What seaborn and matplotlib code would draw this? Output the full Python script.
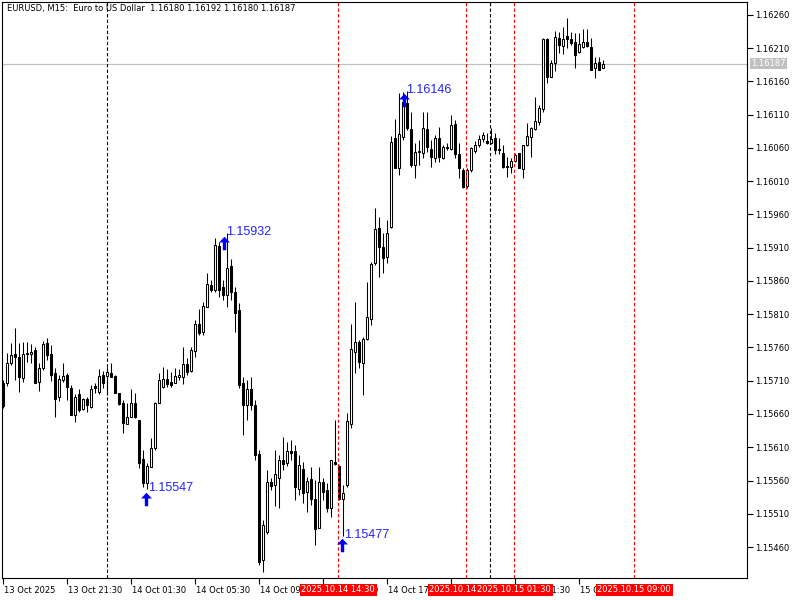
import numpy as np
import pandas as pd
import matplotlib
matplotlib.use("Agg")
import matplotlib.pyplot as plt
import matplotlib.transforms as mtransforms
from matplotlib.path import Path
import seaborn as sns

sns.set_theme(style="white")
plt.rcParams['font.family'] = ['DejaVu Sans']

# ---------------- data (EURUSD M15 candles) ----------------
open_ = [1.15707, 1.15707, 1.15737, 1.15750, 1.15746, 1.15714, 1.15750, 1.15750, 1.15756, 1.15708,
         1.15729, 1.15767, 1.15750, 1.15722, 1.15686, 1.15711, 1.15719, 1.15699, 1.15658, 1.15690,
         1.15668, 1.15683, 1.15671, 1.15702, 1.15693, 1.15719, 1.15717, 1.15722, 1.15717, 1.15692,
         1.15677, 1.15645, 1.15655, 1.15677, 1.15651, 1.15592, 1.15556, 1.15580, 1.15609, 1.15677,
         1.15701, 1.15713, 1.15708, 1.15707, 1.15716, 1.15716, 1.15735, 1.15725, 1.15755, 1.15795,
         1.15783, 1.15821, 1.15854, 1.15846, 1.15913, 1.15851, 1.15839, 1.15883, 1.15843, 1.15816,
         1.15707, 1.15674, 1.15698, 1.15674, 1.15600, 1.15440, 1.15483, 1.15558, 1.15553, 1.15564,
         1.15591, 1.15586, 1.15604, 1.15604, 1.15547, 1.15577, 1.15543, 1.15562, 1.15532, 1.15489,
         1.15558, 1.15546, 1.15519, 1.15588, 1.15582, 1.15532, 1.15553, 1.15645, 1.15753, 1.15768,
         1.15737, 1.15773, 1.15803, 1.15887, 1.15940, 1.15911, 1.15896, 1.15941, 1.16075, 1.16030,
         1.16077, 1.16128, 1.16089, 1.16034, 1.16054, 1.16052, 1.16089, 1.16058, 1.16045, 1.16075,
         1.16045, 1.16062, 1.16058, 1.16096, 1.16051, 1.16027, 1.16003, 1.16027, 1.16055, 1.16065,
         1.16074, 1.16071, 1.16068, 1.16075, 1.16058, 1.16052, 1.16033, 1.16031, 1.16040, 1.16052,
         1.16028, 1.16065, 1.16077, 1.16089, 1.16099, 1.16119, 1.16224, 1.16167, 1.16188, 1.16225,
         1.16213, 1.16228, 1.16224, 1.16219, 1.16204, 1.16212, 1.16219, 1.16212, 1.16180, 1.16189,
         1.16180]
high = [1.15711, 1.15752, 1.15767, 1.15789, 1.15767, 1.15768, 1.15768, 1.15765, 1.15761, 1.15737,
        1.15770, 1.15774, 1.15764, 1.15729, 1.15719, 1.15737, 1.15722, 1.15704, 1.15690, 1.15698,
        1.15684, 1.15686, 1.15704, 1.15707, 1.15728, 1.15725, 1.15731, 1.15737, 1.15719, 1.15692,
        1.15681, 1.15677, 1.15698, 1.15692, 1.15651, 1.15606, 1.15586, 1.15624, 1.15678, 1.15722,
        1.15731, 1.15728, 1.15723, 1.15729, 1.15728, 1.15761, 1.15744, 1.15761, 1.15801, 1.15818,
        1.15828, 1.15872, 1.15861, 1.15925, 1.15919, 1.15861, 1.15932, 1.15893, 1.15851, 1.15827,
        1.15716, 1.15711, 1.15716, 1.15681, 1.15606, 1.15501, 1.15576, 1.15564, 1.15606, 1.15598,
        1.15625, 1.15618, 1.15621, 1.15613, 1.15598, 1.15588, 1.15565, 1.15580, 1.15561, 1.15580,
        1.15564, 1.15556, 1.15591, 1.15651, 1.15583, 1.15553, 1.15661, 1.15795, 1.15828, 1.15771,
        1.15776, 1.15858, 1.15889, 1.15970, 1.15956, 1.15932, 1.15952, 1.16078, 1.16104, 1.16143,
        1.16144, 1.16146, 1.16114, 1.16068, 1.16072, 1.16114, 1.16114, 1.16072, 1.16080, 1.16092,
        1.16065, 1.16068, 1.16110, 1.16102, 1.16068, 1.16030, 1.16030, 1.16062, 1.16071, 1.16080,
        1.16084, 1.16083, 1.16090, 1.16083, 1.16075, 1.16065, 1.16046, 1.16045, 1.16052, 1.16052,
        1.16065, 1.16098, 1.16092, 1.16137, 1.16125, 1.16225, 1.16225, 1.16192, 1.16236, 1.16234,
        1.16242, 1.16255, 1.16234, 1.16233, 1.16233, 1.16239, 1.16239, 1.16225, 1.16197, 1.16197,
        1.16192]
low = [1.15669, 1.15702, 1.15734, 1.15711, 1.15693, 1.15708, 1.15738, 1.15737, 1.15707, 1.15695,
       1.15726, 1.15741, 1.15710, 1.15655, 1.15680, 1.15708, 1.15681, 1.15658, 1.15648, 1.15663,
       1.15666, 1.15663, 1.15669, 1.15692, 1.15690, 1.15699, 1.15689, 1.15716, 1.15692, 1.15674,
       1.15631, 1.15645, 1.15655, 1.15654, 1.15579, 1.15550, 1.15547, 1.15580, 1.15606, 1.15677,
       1.15699, 1.15701, 1.15701, 1.15707, 1.15711, 1.15705, 1.15719, 1.15723, 1.15746, 1.15779,
       1.15779, 1.15821, 1.15843, 1.15843, 1.15836, 1.15831, 1.15821, 1.15831, 1.15783, 1.15699,
       1.15628, 1.15651, 1.15666, 1.15591, 1.15433, 1.15422, 1.15480, 1.15546, 1.15522, 1.15519,
       1.15576, 1.15582, 1.15591, 1.15531, 1.15538, 1.15526, 1.15513, 1.15523, 1.15463, 1.15489,
       1.15531, 1.15513, 1.15505, 1.15583, 1.15531, 1.15477, 1.15550, 1.15639, 1.15722, 1.15729,
       1.15689, 1.15771, 1.15794, 1.15884, 1.15866, 1.15872, 1.15887, 1.15940, 1.16030, 1.16019,
       1.16072, 1.16087, 1.16031, 1.16015, 1.16034, 1.16045, 1.16054, 1.16031, 1.16039, 1.16039,
       1.16043, 1.16057, 1.16057, 1.16045, 1.16015, 1.16000, 1.16000, 1.16024, 1.16052, 1.16062,
       1.16069, 1.16066, 1.16066, 1.16051, 1.16051, 1.16030, 1.16016, 1.16022, 1.16039, 1.16030,
       1.16015, 1.16063, 1.16046, 1.16087, 1.16095, 1.16114, 1.16158, 1.16167, 1.16176, 1.16203,
       1.16201, 1.16210, 1.16215, 1.16180, 1.16203, 1.16210, 1.16212, 1.16177, 1.16165, 1.16177,
       1.16180]
close = [1.15672, 1.15737, 1.15749, 1.15746, 1.15716, 1.15750, 1.15752, 1.15753, 1.15707, 1.15729,
         1.15765, 1.15749, 1.15719, 1.15683, 1.15713, 1.15717, 1.15701, 1.15658, 1.15686, 1.15666,
         1.15683, 1.15674, 1.15698, 1.15699, 1.15717, 1.15707, 1.15723, 1.15716, 1.15692, 1.15675,
         1.15646, 1.15655, 1.15677, 1.15655, 1.15586, 1.15556, 1.15582, 1.15609, 1.15677, 1.15711,
         1.15713, 1.15705, 1.15704, 1.15717, 1.15719, 1.15735, 1.15723, 1.15756, 1.15795, 1.15782,
         1.15822, 1.15855, 1.15846, 1.15914, 1.15846, 1.15839, 1.15880, 1.15843, 1.15812, 1.15704,
         1.15674, 1.15698, 1.15674, 1.15598, 1.15437, 1.15493, 1.15558, 1.15552, 1.15570, 1.15591,
         1.15585, 1.15604, 1.15601, 1.15550, 1.15583, 1.15541, 1.15559, 1.15532, 1.15487, 1.15558,
         1.15543, 1.15519, 1.15591, 1.15585, 1.15532, 1.15541, 1.15649, 1.15758, 1.15768, 1.15738,
         1.15773, 1.15806, 1.15886, 1.15938, 1.15911, 1.15895, 1.15932, 1.16069, 1.16030, 1.16081,
         1.16129, 1.16090, 1.16034, 1.16054, 1.16055, 1.16090, 1.16062, 1.16046, 1.16075, 1.16046,
         1.16062, 1.16060, 1.16095, 1.16051, 1.16030, 1.16001, 1.16027, 1.16060, 1.16065, 1.16074,
         1.16080, 1.16068, 1.16074, 1.16057, 1.16057, 1.16031, 1.16031, 1.16040, 1.16049, 1.16030,
         1.16065, 1.16078, 1.16090, 1.16101, 1.16120, 1.16224, 1.16167, 1.16188, 1.16227, 1.16215,
         1.16224, 1.16224, 1.16218, 1.16200, 1.16216, 1.16219, 1.16213, 1.16177, 1.16188, 1.16177,
         1.16187]

x_tick_pos = [0, 16, 32, 48, 64, 80, 96, 112, 128, 144]
x_tick_labels = ["13 Oct 2025", "13 Oct 21:30", "14 Oct 01:30", "14 Oct 05:30", "14 Oct 09:30",
                 "14 Oct 13:30", "14 Oct 17:30", "14 Oct 21:30", "15 Oct 01:30", "15 Oct 05:30"]
y_ticks = [1.15460, 1.15510, 1.15560, 1.15610, 1.15660, 1.15710, 1.15760, 1.15810, 1.15860,
           1.15910, 1.15960, 1.16010, 1.16060, 1.16110, 1.16160, 1.16210, 1.16260]
day_sep_pos = [26, 121.8]
vline_pos = [83.8, 115.8, 127.8, 157.8]
vline_labels = ["2025.10.14 14:30", "2025.10.14 22:30", "2025.10.15 01:30", "2025.10.15 09:00"]
mark_bar = [36, 55.5, 85, 100.5]
mark_price = [1.15547, 1.15932, 1.15477, 1.16146]
mark_text = ["1.15547", "1.15932", "1.15477", "1.16146"]
last_price = 1.16187
header = "EURUSD, M15:  Euro to US Dollar  1.16180 1.16192 1.16180 1.16187"

df = pd.DataFrame({"open": open_, "high": high, "low": low, "close": close})
df["idx"] = np.arange(len(df))
df["bull"] = df["close"] >= df["open"]

# ---------------- figure ----------------
W, H = 800, 600
fig = plt.figure(figsize=(8, 6), dpi=100, facecolor="white")
ax = fig.add_axes([2 / W, 22 / H, 745 / W, 576 / H])
ax.set_facecolor("white")
ax.set_xlim(-0.25, 186)
ax.set_ylim(1.154134, 1.162795)

sns.despine(ax=ax, top=False, right=False, left=False, bottom=False)
# wicks
ax.vlines(df["idx"], df["low"], df["high"], color="black", lw=0.75, zorder=3)
# bodies
bottoms = np.minimum(df["open"], df["close"])
heights = np.abs(df["close"] - df["open"])
faces = np.where(df["bull"], "white", "black")
ax.bar(df["idx"], heights, bottom=bottoms, width=0.6, color=faces,
       edgecolor="black", linewidth=0.75, zorder=4)

# last price line
ax.axhline(last_price, color="#c0c0c0", lw=0.9, zorder=1)

# day separators
for p in day_sep_pos:
    ax.axvline(p, color="black", lw=0.8, ls=(0, (3, 2)), zorder=2)
# red vertical lines
for p in vline_pos:
    ax.axvline(p, color="#ff0000", lw=0.8, ls=(0, (3, 2)), zorder=5)

# arrows + labels
arrow_path = Path([(0, 1), (0.8, 0.15), (0.25, 0.15), (0.25, -1), (-0.25, -1), (-0.25, 0.15),
                   (-0.8, 0.15), (0, 1)],
                  [Path.MOVETO] + [Path.LINETO] * 6 + [Path.CLOSEPOLY])
arr_tr = mtransforms.offset_copy(ax.transData, fig=fig, x=-1, y=-9.5, units="dots")
txt_tr = mtransforms.offset_copy(ax.transData, fig=fig, x=1, y=1, units="dots")
ax.scatter(mark_bar, mark_price, marker=arrow_path, s=(13.5 * 0.72) ** 2,
           color="#0000ff", linewidths=0, transform=arr_tr, zorder=6, clip_on=False)
for b, p, t in zip(mark_bar, mark_price, mark_text):
    ax.text(b, p, t, transform=txt_tr, color="#2222ff", fontsize=9,
            family=["Liberation Sans", "DejaVu Sans"], ha="left", va="center", zorder=7)

# axes styling
for s in ax.spines.values():
    s.set_color("black")
    s.set_linewidth(0.8)
ax.yaxis.tick_right()
ax.set_yticks(y_ticks)
ax.set_yticklabels([f"{v:.5f}" for v in y_ticks], fontsize=6, color="black")
ax.set_xticks(x_tick_pos)
ax.set_xticklabels(x_tick_labels, fontsize=6, color="black", ha="left")
ax.tick_params(axis="both", which="both", length=4, width=0.8, color="black",
               direction="out", pad=1.5)
ax.tick_params(axis="y", left=False, right=True)
ax.tick_params(axis="x", bottom=True, top=False)
shift = mtransforms.ScaledTranslation(1 / 100, 0, fig.dpi_scale_trans)
for lab in ax.get_xticklabels():
    lab.set_transform(lab.get_transform() + shift)
ax.grid(False)

# bottom red time labels
blend = mtransforms.blended_transform_factory(ax.transData, ax.transAxes)
for p, t in zip(vline_pos, vline_labels):
    ax.text(p, -11.5 / 576, t, transform=blend, color="white", fontsize=6,
            ha="center", va="center", clip_on=False, zorder=20,
            bbox=dict(boxstyle="square,pad=0.18", fc="#ff0000", ec="none"))

# last price label on right axis
blend_y = mtransforms.blended_transform_factory(ax.transAxes, ax.transData)
ax.text(1 + 4 / 745, last_price, f"{last_price:.5f}", transform=blend_y, color="white",
        fontsize=6, ha="left", va="center", clip_on=False, zorder=20,
        bbox=dict(boxstyle="square,pad=0.15", fc="#c0c0c0", ec="none"))

# header
ax.text(5 / 745, 1 - 6 / 576, header, transform=ax.transAxes, fontsize=6, color="black",
        ha="left", va="center", zorder=20)

fig.savefig("out.png", dpi=100, facecolor="white")
